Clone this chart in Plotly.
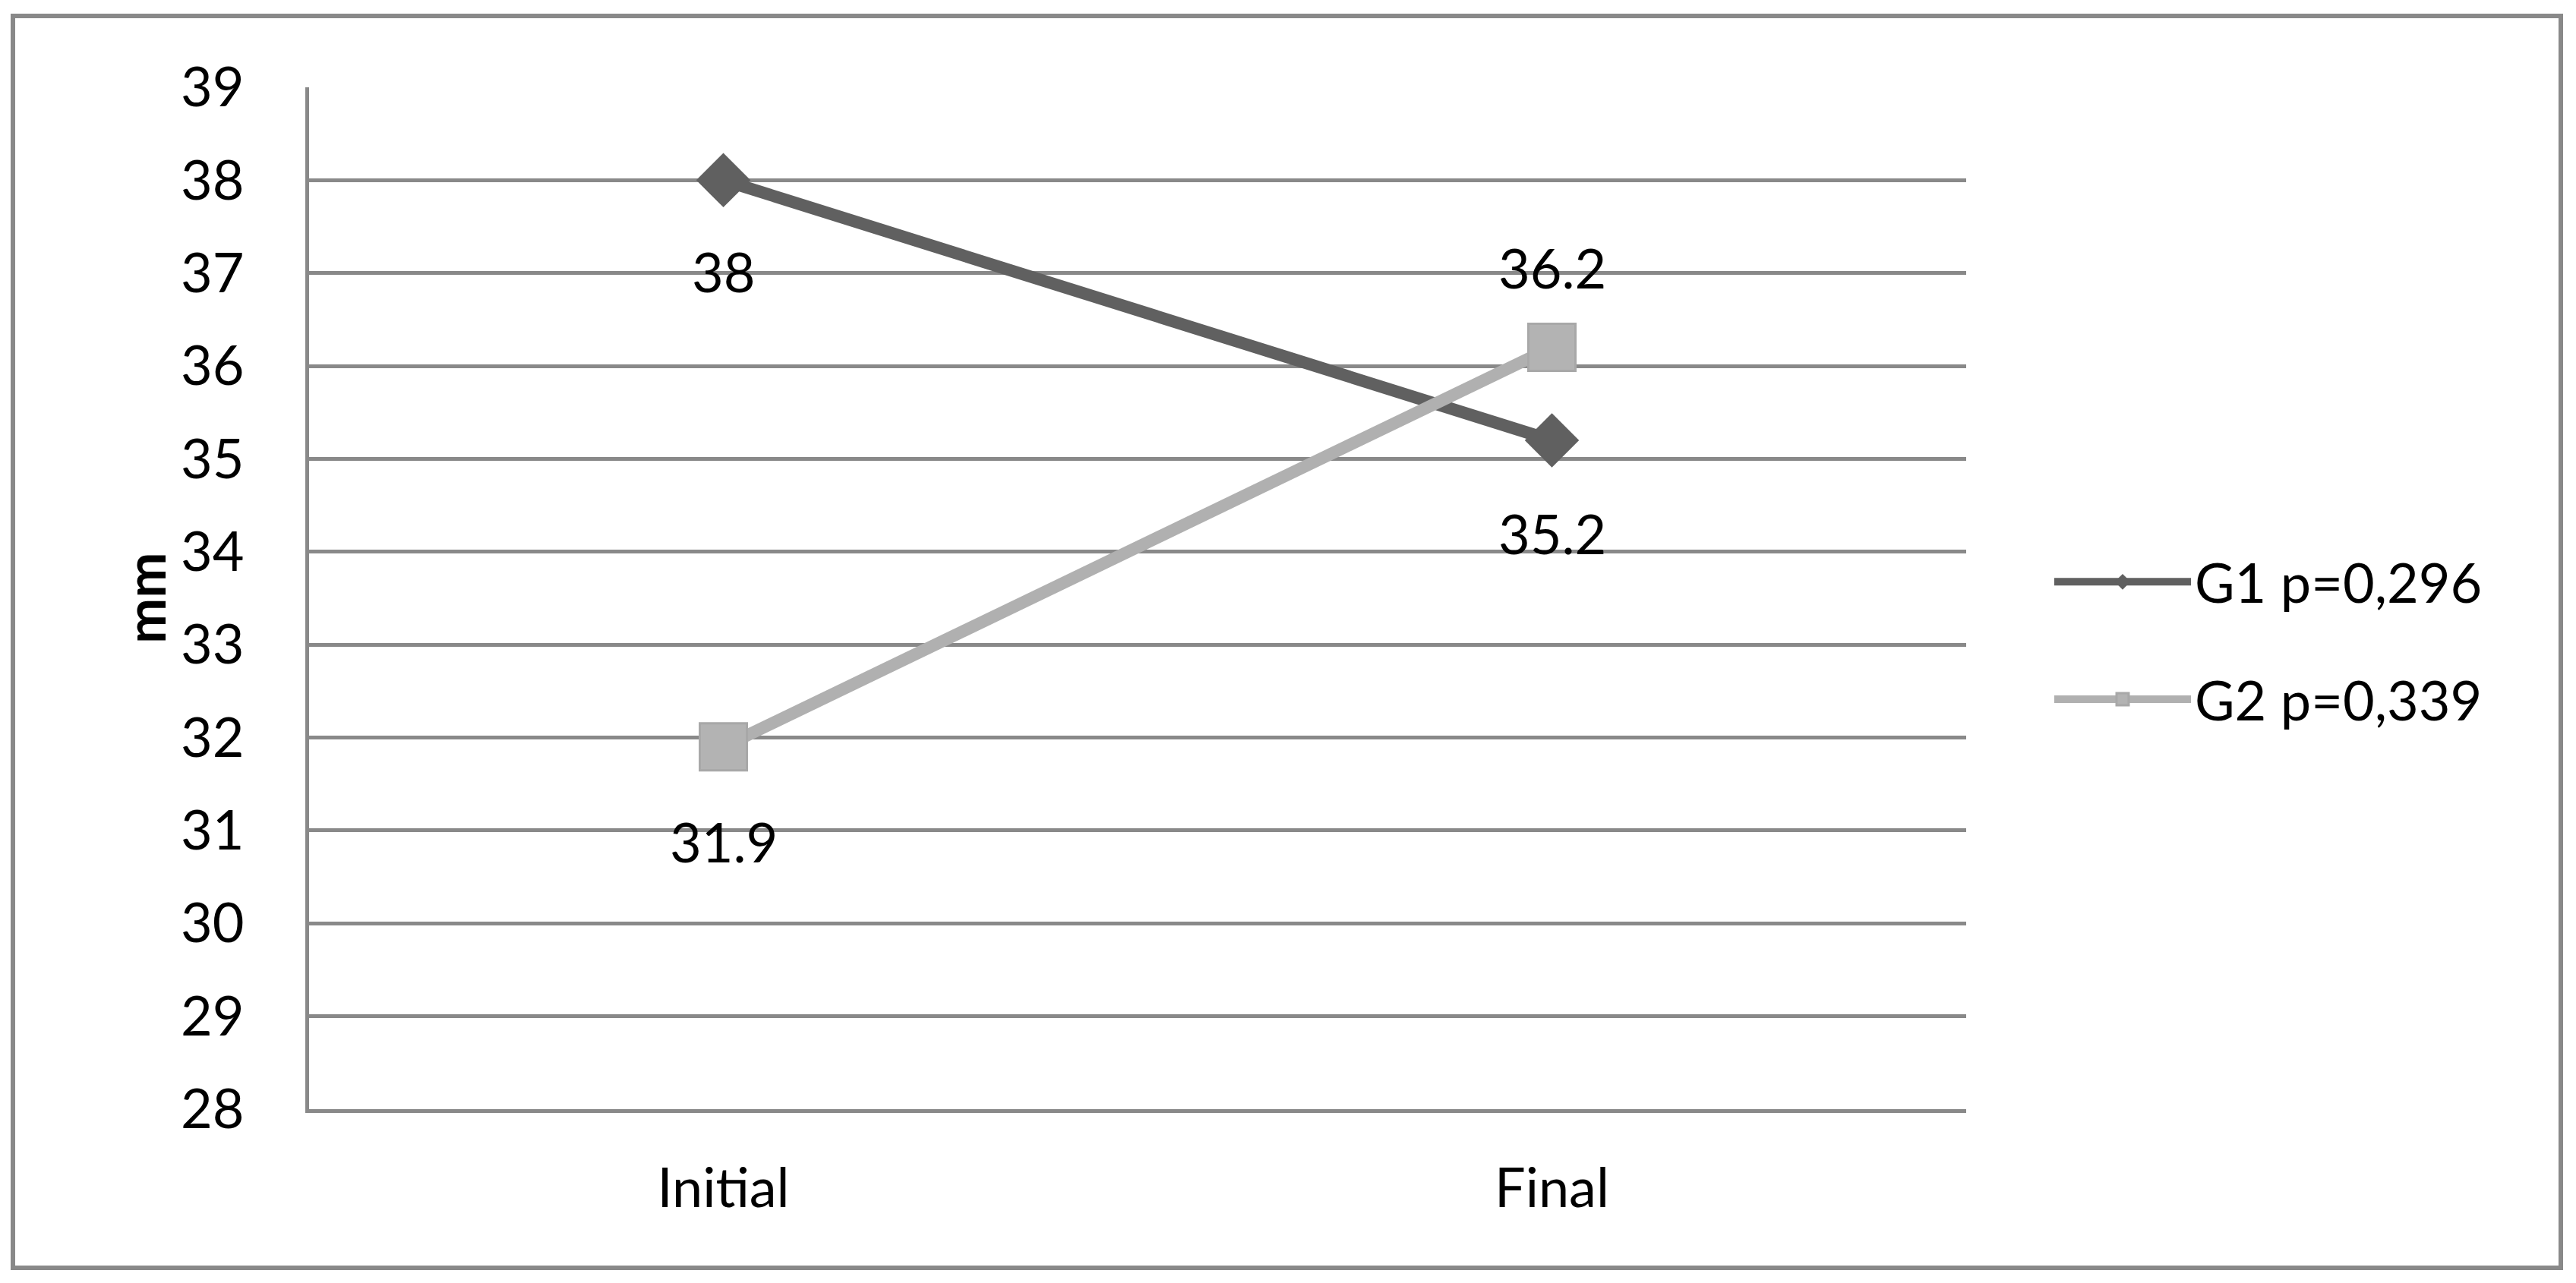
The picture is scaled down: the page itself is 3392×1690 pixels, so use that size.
import plotly.graph_objects as go

# chart data
stages = ["Initial", "Final"]
g1_values = [38.0, 35.2]
g2_values = [31.9, 36.2]
series_names = ["G1 p=0,296", "G2 p=0,339"]
y_ticks = list(range(28, 40))

FONT = "Lato"
GRID = "#898989"
OFF = 8  # page body margin
W, H = 3392 - OFF, 1690 - OFF
# plot area in reference pixels, shifted into figure pixels
L, R, T, B = 407 - OFF, 2589 - OFF, 115 - OFF, 1461 - OFF


def px_x(v):
    return (v - OFF - L) / (R - L)


def px_y(v):
    return (B - (v - OFF)) / (B - T)


fig = go.Figure()

fig.add_trace(
    go.Scatter(
        x=stages,
        y=g1_values,
        name=series_names[0],
        legendgroup="g1",
        mode="lines+markers",
        line=dict(color="#606060", width=16),
        marker=dict(symbol="diamond", size=55, color="#606060"),
    )
)
fig.add_trace(
    go.Scatter(
        x=stages,
        y=g2_values,
        name=series_names[1],
        legendgroup="g2",
        mode="lines+markers",
        line=dict(color="#b0b0b0", width=16),
        marker=dict(
            symbol="square", size=62, color="#b3b3b3",
            line=dict(color="#a8a8a8", width=3),
        ),
    )
)

# data labels: G1 below both points, G2 below first and above second
label_shift = {"g1": [-120, -122], "g2": [-124, 106]}
for key, values in (("g1", g1_values), ("g2", g2_values)):
    for i, (cat, v) in enumerate(zip(stages, values)):
        fig.add_annotation(
            x=cat, y=v, text=f"{v:g}", showarrow=False,
            yshift=label_shift[key][i],
            font=dict(family=FONT, size=72, color="black"),
        )

# y axis title
fig.add_annotation(
    xref="paper", yref="paper", x=px_x(190), y=0.5, text="<b>mm</b>",
    textangle=-90, showarrow=False, xanchor="center", yanchor="middle",
    font=dict(family=FONT, size=72, color="black"),
)

# outer frame
fig.add_shape(
    type="rect", xref="paper", yref="paper",
    x0=px_x(17), x1=px_x(3372), y0=px_y(1670), y1=px_y(21),
    line=dict(color=GRID, width=6),
)

fig.update_xaxes(
    type="category", range=[-0.5, 1.5], showgrid=False, zeroline=False,
    showline=True, linecolor=GRID, linewidth=5, ticks="",
    ticklabelstandoff=38,
    tickfont=dict(family=FONT, size=72, color="black"),
)
fig.update_yaxes(
    range=[28, 39], tickvals=y_ticks, showgrid=True, gridcolor=GRID,
    gridwidth=5, zeroline=False, showline=True, linecolor=GRID,
    linewidth=5, ticks="", ticklabelstandoff=66,
    tickfont=dict(family=FONT, size=72, color="black"),
)

fig.update_layout(
    width=W, height=H,
    margin=dict(l=L, r=W - R, t=T, b=H - B),
    paper_bgcolor="white", plot_bgcolor="white",
    font=dict(family=FONT, size=72, color="black"),
    legend=dict(
        x=px_x(2700), y=px_y(844), xanchor="left", yanchor="middle",
        font=dict(family=FONT, size=72, color="black"),
        itemwidth=180, tracegroupgap=58, bgcolor="rgba(0,0,0,0)",
    ),
)

fig.write_html("out.html")
